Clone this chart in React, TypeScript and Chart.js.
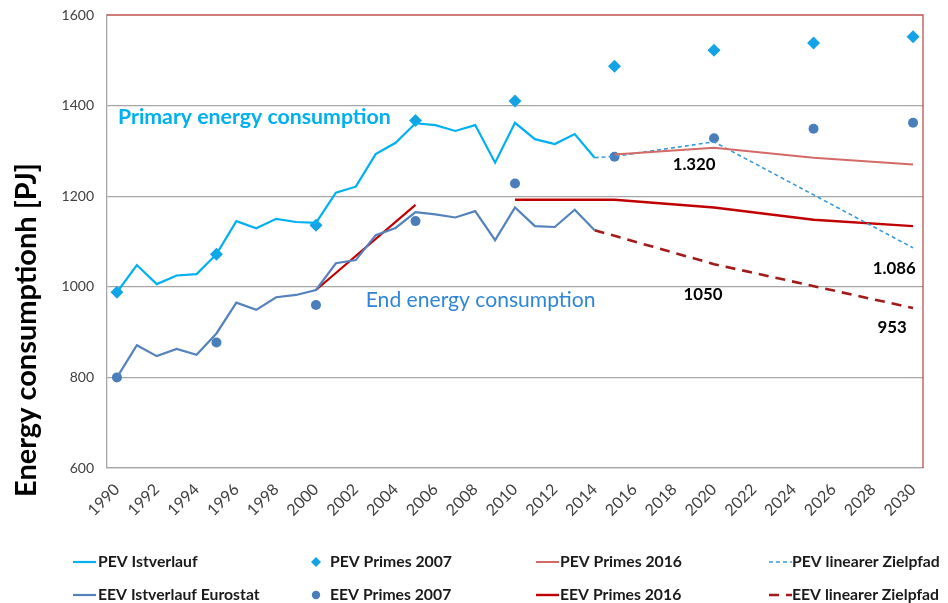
import React, { useEffect, useRef } from 'react';
import { Chart, registerables } from 'chart.js';

Chart.register(...registerables);

// ---------- data ----------
const years = [
  '1990', '1991', '1992', '1993', '1994', '1995', '1996', '1997', '1998', '1999',
  '2000', '2001', '2002', '2003', '2004', '2005', '2006', '2007', '2008', '2009',
  '2010', '2011', '2012', '2013', '2014', '2015', '2016', '2017', '2018', '2019',
  '2020', '2021', '2022', '2023', '2024', '2025', '2026', '2027', '2028', '2029', '2030',
];

// actual values 1990..2014
const pevIst = [988, 1048, 1006, 1025, 1028, 1072, 1145, 1129, 1150, 1143, 1141, 1208, 1221, 1293, 1318, 1361, 1357, 1344, 1357, 1274, 1362, 1326, 1315, 1337, 1285];
const eevIst = [800, 871, 847, 863, 850, 897, 965, 949, 977, 982, 993, 1052, 1059, 1114, 1130, 1165, 1160, 1153, 1167, 1103, 1175, 1134, 1132, 1170, 1125];

const primes2007Years = ['1990', '1995', '2000', '2005', '2010', '2015', '2020', '2025', '2030'];
const pevPrimes2007 = [988, 1072, 1136, 1367, 1410, 1487, 1522, 1538, 1552];
const eevPrimes2007 = [800, 877, 960, 1145, 1228, 1287, 1328, 1349, 1362];

const pevPrimes2016Years = ['2015', '2020', '2025', '2030'];
const pevPrimes2016 = [1292, 1307, 1285, 1270];
const eevPrimes2016Years = ['2010', '2015', '2020', '2025', '2030'];
const eevPrimes2016 = [1192, 1192, 1175, 1148, 1134];

const eevTrendYears = ['2000', '2005'];
const eevTrend = [993, 1181];

const pevZielYears = ['2014', '2015', '2020', '2030'];
const pevZiel = [1285, 1288, 1320, 1086];
const eevZielYears = ['2014', '2020', '2030'];
const eevZiel = [1125, 1050, 953];

const yMin = 600;
const yMax = 1600;
const yStep = 200;

const legendLabels = [
  'PEV Istverlauf', 'PEV Primes 2007', 'PEV Primes 2016', 'PEV linearer Zielpfad',
  'EEV Istverlauf Eurostat', 'EEV Primes 2007', 'EEV Primes 2016', 'EEV linearer Zielpfad',
];

const yTitle = 'Energy consumptionh [PJ]';
const primaryText = 'Primary energy consumption';
const endText = 'End energy consumption';

// ---------- helpers ----------
const pts = (xs: string[], vs: number[]) => xs.map((x, i) => ({ x, y: vs[i] }));

const FONT = 'Lato, "Open Sans", "Liberation Sans", sans-serif';

function fitSize(ctx: CanvasRenderingContext2D, text: string, weight: string, target: number) {
  ctx.font = `${weight} 100px ${FONT}`;
  const w = ctx.measureText(text).width;
  return (100 * target) / w;
}

const decorPlugin = {
  id: 'decor',
  beforeDatasetsDraw(chart: any) {
    const { ctx, chartArea } = chart;
    ctx.save();
    ctx.strokeStyle = '#C0504D';
    ctx.lineWidth = 1.3;
    ctx.beginPath();
    ctx.moveTo(chartArea.left, chartArea.top);
    ctx.lineTo(chartArea.right, chartArea.top);
    ctx.lineTo(chartArea.right, chartArea.bottom);
    ctx.stroke();
    ctx.restore();
  },
  afterDraw(chart: any) {
    const { ctx } = chart;
    const xs = chart.scales.x;
    const ys = chart.scales.y;
    const px = (yr: number) => xs.getPixelForValue(yr - 1990);
    const py = (v: number) => ys.getPixelForValue(v);
    ctx.save();

    // y-axis title
    const ts = fitSize(ctx, yTitle, 'bold', 334);
    ctx.font = `bold ${ts}px ${FONT}`;
    ctx.fillStyle = '#000';
    ctx.textAlign = 'center';
    ctx.textBaseline = 'middle';
    ctx.translate(27, 330);
    ctx.rotate(-Math.PI / 2);
    ctx.fillText(yTitle, 0, 0);
    ctx.setTransform(1, 0, 0, 1, 0, 0);

    // series annotations
    const ps = fitSize(ctx, primaryText, 'bold', 273);
    ctx.font = `bold ${ps}px ${FONT}`;
    ctx.fillStyle = '#00B0F0';
    ctx.textAlign = 'left';
    ctx.fillText(primaryText, px(1990.05), py(1375));

    const es = fitSize(ctx, endText, 'normal', 230);
    ctx.font = `normal ${es}px ${FONT}`;
    ctx.fillStyle = '#2F86D8';
    ctx.fillText(endText, px(2002.5), py(971));

    // value labels
    const ns = fitSize(ctx, '1.320', 'bold', 43);
    ctx.font = `bold ${ns}px ${FONT}`;
    ctx.fillStyle = '#000';
    ctx.textAlign = 'center';
    ctx.fillText('1.320', px(2019), py(1269));
    ctx.fillText('1.086', px(2029.05), py(1041));
    ctx.fillText('1050', px(2019.45), py(982));
    ctx.fillText('953', px(2028.95), py(911));

    // legend
    const ds = chart.data.datasets;
    const symX = [73, 316, 536, 769];
    const txtX = [98, 330, 560, 792];
    const rowY = [562, 595];
    const ls = fitSize(ctx, 'PEV Primes 2007', 'bold', 122);
    for (let i = 0; i < 8; i++) {
      const d = ds[i];
      const c = i % 4;
      const r = Math.floor(i / 4);
      const y = rowY[r];
      if (d.showLine === false) {
        ctx.fillStyle = d.pointBackgroundColor;
        ctx.beginPath();
        if (d.pointStyle === 'rectRot') {
          const s = 5;
          ctx.moveTo(symX[c], y - s);
          ctx.lineTo(symX[c] + s, y);
          ctx.lineTo(symX[c], y + s);
          ctx.lineTo(symX[c] - s, y);
          ctx.closePath();
        } else {
          ctx.arc(symX[c], y, 4.2, 0, Math.PI * 2);
        }
        ctx.fill();
      } else {
        ctx.strokeStyle = d.borderColor;
        ctx.lineWidth = Math.min(d.borderWidth, 2.5);
        ctx.setLineDash(d.borderDash || []);
        ctx.beginPath();
        ctx.moveTo(symX[c], y);
        ctx.lineTo(symX[c] + 23, y);
        ctx.stroke();
        ctx.setLineDash([]);
      }
      ctx.font = `bold ${ls}px ${FONT}`;
      ctx.fillStyle = '#1A1A1A';
      ctx.textAlign = 'left';
      ctx.textBaseline = 'middle';
      ctx.fillText(legendLabels[i], txtX[c], y);
    }
    ctx.restore();
  },
};

export default function App() {
  const ref = useRef<HTMLCanvasElement | null>(null);

  useEffect(() => {
    document.body.style.margin = '0';
    const canvas = ref.current;
    if (!canvas) return;
    const lineBase = { pointRadius: 0, pointHoverRadius: 0, tension: 0, fill: false };
    const chart = new Chart(canvas, {
      type: 'line',
      data: {
        labels: years,
        datasets: [
          { ...lineBase, label: legendLabels[0], data: pevIst, borderColor: '#00B0F0', borderWidth: 2.2 },
          {
            label: legendLabels[1], data: pts(primes2007Years, pevPrimes2007), showLine: false,
            pointStyle: 'rectRot', pointRadius: 6.5, borderColor: '#14A4E6', backgroundColor: '#14A4E6',
            pointBackgroundColor: '#14A4E6', pointBorderColor: '#14A4E6', pointBorderWidth: 0,
          },
          { ...lineBase, label: legendLabels[2], data: pts(pevPrimes2016Years, pevPrimes2016), borderColor: '#D46A68', borderWidth: 2 },
          { ...lineBase, label: legendLabels[3], data: pts(pevZielYears, pevZiel), borderColor: '#3A9BDC', borderWidth: 1.6, borderDash: [4, 3] },
          { ...lineBase, label: legendLabels[4], data: eevIst, borderColor: '#5482BD', borderWidth: 2.2 },
          {
            label: legendLabels[5], data: pts(primes2007Years, eevPrimes2007), showLine: false,
            pointStyle: 'circle', pointRadius: 5, borderColor: '#4A7EBB', backgroundColor: '#4A7EBB',
            pointBackgroundColor: '#4A7EBB', pointBorderColor: '#4A7EBB', pointBorderWidth: 0,
          },
          { ...lineBase, label: legendLabels[6], data: pts(eevPrimes2016Years, eevPrimes2016), borderColor: '#C00000', borderWidth: 2.4 },
          { ...lineBase, label: legendLabels[7], data: pts(eevZielYears, eevZiel), borderColor: '#A31A1A', borderWidth: 2.6, borderDash: [10, 7] },
          { ...lineBase, label: 'EEV Trend 2000-2005', data: pts(eevTrendYears, eevTrend), borderColor: '#C00000', borderWidth: 2.2 },
        ],
      },
      options: {
        responsive: false,
        animation: false,
        layout: { padding: { top: 15, right: 25, left: 0, bottom: 70 } },
        plugins: {
          legend: { display: false },
          tooltip: { enabled: false },
        },
        scales: {
          x: {
            type: 'category',
            offset: true,
            grid: { display: false },
            border: { display: true, color: '#A6A6A6', width: 1.3 },
            ticks: {
              autoSkip: false,
              minRotation: 45,
              maxRotation: 45,
              padding: 4,
              color: '#404040',
              font: { family: FONT, size: 16 },
              callback: (_v: any, i: number) => (i % 2 === 0 ? years[i] : ''),
            },
            afterFit: (s: any) => { s.height = 65; },
          },
          y: {
            min: yMin,
            max: yMax,
            grid: {
              drawTicks: false,
              lineWidth: 1.3,
              color: (c: any) => (c.tick && c.tick.value === yMax ? 'rgba(0,0,0,0)' : '#A6A6A6'),
            },
            border: { display: true, color: '#A6A6A6', width: 1.3 },
            ticks: {
              stepSize: yStep,
              padding: 13,
              color: '#404040',
              font: { family: FONT, size: 14 },
              callback: (v: any) => String(v),
            },
            afterFit: (s: any) => {
              s.width = 107;
              s.paddingTop = 0;
              s.paddingBottom = 0;
            },
          },
        },
      },
      plugins: [decorPlugin],
    });
    return () => chart.destroy();
  }, []);

  return (
    <div style={{ width: 948, height: 603, background: '#fff' }}>
      <canvas ref={ref} width={948} height={603} style={{ display: 'block' }} />
    </div>
  );
}
